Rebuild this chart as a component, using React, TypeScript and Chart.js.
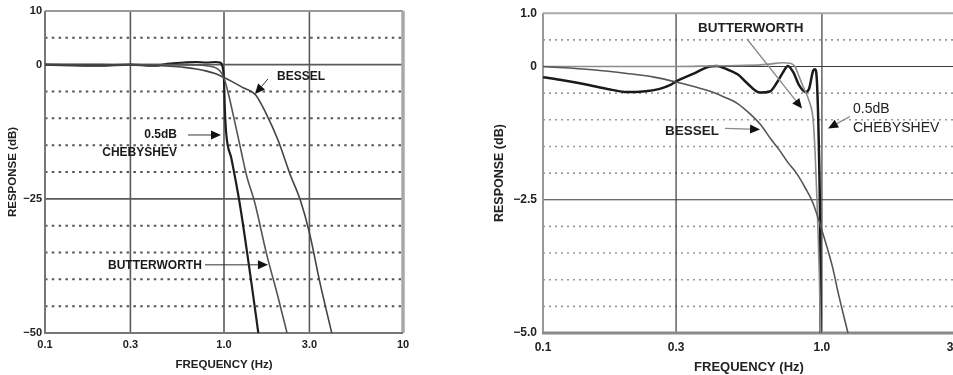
import React, { useEffect, useRef } from 'react';
import { Chart, registerables } from 'chart.js';

Chart.register(...registerables);

const FONT = "'Liberation Sans', Arial, Helvetica, sans-serif";

// ---------------- Left panel (wide range) ----------------
const leftXTicks = [0.1, 0.3, 1, 3, 10];
const leftXLabels = ['0.1', '0.3', '1.0', '3.0', '10'];
const leftYTicks = [-50, -25, 0, 10];
const leftYLabels = ['−50', '−25', '0', '10'];
const leftDotted = [5, -5, -10, -15, -20, -30, -35, -40, -45];
const leftSolidY = [0, -25];
const leftSolidX = [0.3, 1, 3];

const besselLFreq = [0.1, 0.2, 0.3, 0.4, 0.5, 0.6, 0.7, 0.8, 0.9, 1.0, 1.13, 1.28, 1.5, 1.7, 2.0, 2.35, 2.66, 3.0, 3.44, 4.0];
const besselLDb = [0, 0, -0.05, -0.15, -0.3, -0.5, -0.8, -1.2, -1.7, -2.4, -3.3, -4.3, -5.6, -8.8, -14, -20.6, -25.1, -31.3, -40.7, -50];

const butterLFreq = [0.1, 0.3, 0.5, 0.7, 0.8, 0.9, 0.95, 1.0, 1.06, 1.13, 1.23, 1.34, 1.48, 1.73, 2.0, 2.25];
const butterLDb = [0, 0, 0, -0.05, -0.2, -0.6, -1.2, -2.5, -5.5, -9.6, -15.2, -20.8, -25.5, -35.3, -43.2, -50];

const chebyLFreq = [0.1, 0.2, 0.3, 0.4, 0.5, 0.6, 0.7, 0.8, 0.9, 0.95, 0.98, 1.0, 1.01, 1.03, 1.1, 1.226, 1.4, 1.555];
const chebyLDb = [0, -0.2, 0, -0.2, 0.2, 0.4, 0.5, 0.4, 0.5, 0.4, -0.3, -3, -8, -13, -17.5, -26, -39, -50];

// ---------------- Right panel (passband detail) ----------------
const rightXTicks = [0.1, 0.3, 1, 3];
const rightXLabels = ['0.1', '0.3', '1.0', '3.0'];
const rightYTicks = [-5, -2.5, 0, 1];
const rightYLabels = ['−5.0', '−2.5', '0', '1.0'];
const rightDotted = [0.5, -0.5, -1, -1.5, -2, -3, -3.5, -4, -4.5];
const rightSolidY = [0, -2.5];
const rightSolidX = [0.3, 1, 3];

const besselRFreq = [0.1, 0.15, 0.2, 0.25, 0.3, 0.35, 0.4, 0.45, 0.5, 0.55, 0.6, 0.66, 0.7, 0.75, 0.81, 0.87, 0.93, 0.99, 1.05, 1.09, 1.15, 1.24];
const besselRDb = [0, -0.06, -0.13, -0.2, -0.29, -0.38, -0.47, -0.58, -0.7, -0.88, -1.08, -1.38, -1.55, -1.78, -2.0, -2.27, -2.57, -3.0, -3.44, -3.75, -4.3, -5.0];

const butterRFreq = [0.1, 0.2, 0.3, 0.4, 0.5, 0.6, 0.66, 0.72, 0.77, 0.8, 0.83, 0.86, 0.9, 0.93, 0.945, 0.96, 0.975, 0.99];
const butterRDb = [0, 0, 0, 0.01, 0.02, 0.03, 0.05, 0.07, 0.06, 0.0, -0.2, -0.4, -0.65, -1.0, -1.6, -2.5, -3.6, -5];

const chebyRFreq = [0.1, 0.115, 0.14, 0.174, 0.2, 0.228, 0.262, 0.285, 0.3, 0.345, 0.396, 0.42, 0.455, 0.5, 0.536, 0.6, 0.65, 0.69, 0.725, 0.755, 0.79, 0.83, 0.874, 0.899, 0.93, 0.945, 0.96, 0.975, 0.985, 0.99];
const chebyRDb = [-0.2, -0.25, -0.33, -0.43, -0.48, -0.47, -0.42, -0.35, -0.28, -0.14, 0, 0.01, -0.05, -0.15, -0.3, -0.49, -0.47, -0.3, -0.11, 0.01, -0.11, -0.36, -0.48, -0.42, -0.08, -0.05, -0.3, -1.5, -3, -5];

// ---------------- Annotations (data coordinates) ----------------
const leftTexts = [
  { x: 1.977, y: -2.3, text: 'BESSEL', align: 'left' },
  { x: 0.546, y: -13.1, text: '0.5dB', align: 'right' },
  { x: 0.546, y: -16.46, text: 'CHEBYSHEV', align: 'right' },
  { x: 0.225, y: -37.5, text: 'BUTTERWORTH', align: 'left' },
];
const leftArrows = [
  { x1: 1.76, y1: -2.67, x2: 1.49, y2: -5.47 },
  { x1: 0.63, y1: -13.1, x2: 0.962, y2: -13.1 },
  { x1: 0.783, y1: -37.3, x2: 1.76, y2: -37.3 },
];
const rightTexts = [
  { x: 0.3596, y: 0.72, text: 'BUTTERWORTH', align: 'left' },
  { x: 0.2738, y: -1.217, text: 'BESSEL', align: 'left' },
  { x: 1.2926, y: -0.807, text: '0.5dB', align: 'left' },
  { x: 1.2926, y: -1.161, text: 'CHEBYSHEV', align: 'left' },
];
const rightArrows = [
  { x1: 0.5387, y1: 0.5155, x2: 0.8484, y2: -0.789 },
  { x1: 0.4494, y1: -1.161, x2: 0.6001, y2: -1.18 },
  { x1: 1.261, y1: -0.938, x2: 1.052, y2: -1.161 },
];

const gridPlugin = {
  id: 'panelGrid',
  beforeDatasetsDraw(chart: any, _a: any, o: any) {
    const { ctx, chartArea, scales } = chart;
    const { left, right, top, bottom } = chartArea;
    const x = scales.x, y = scales.y;
    ctx.save();
    ctx.lineCap = 'butt';
    ctx.setLineDash(o.dash);
    ctx.strokeStyle = o.dotColor;
    ctx.lineWidth = o.dotWidth;
    o.dotted.forEach((v: number) => {
      const py = y.getPixelForValue(v);
      ctx.beginPath(); ctx.moveTo(left, py); ctx.lineTo(right, py); ctx.stroke();
    });
    ctx.setLineDash([]);
    ctx.strokeStyle = o.solidColor;
    ctx.lineWidth = o.solidWidth;
    o.solidY.forEach((v: number) => {
      const py = y.getPixelForValue(v);
      ctx.beginPath(); ctx.moveTo(left, py); ctx.lineTo(right, py); ctx.stroke();
    });
    o.solidX.forEach((v: number) => {
      const px = x.getPixelForValue(v);
      ctx.beginPath(); ctx.moveTo(px, top); ctx.lineTo(px, bottom); ctx.stroke();
    });
    const side = (c: string, w: number, x1: number, y1: number, x2: number, y2: number) => {
      ctx.strokeStyle = c; ctx.lineWidth = w;
      ctx.beginPath(); ctx.moveTo(x1, y1); ctx.lineTo(x2, y2); ctx.stroke();
    };
    side(o.border.top[0], o.border.top[1], left, top, right, top);
    side(o.border.right[0], o.border.right[1], right, top, right, bottom);
    side(o.border.left[0], o.border.left[1], left, top, left, bottom);
    side(o.border.bottom[0], o.border.bottom[1], left - 1, bottom, right, bottom);
    ctx.restore();
  },
};

const notesPlugin = {
  id: 'panelNotes',
  afterDatasetsDraw(chart: any, _a: any, o: any) {
    const { ctx, scales } = chart;
    const x = scales.x, y = scales.y;
    ctx.save();
    o.arrows.forEach((a: any) => {
      const x1 = x.getPixelForValue(a.x1), y1 = y.getPixelForValue(a.y1);
      const x2 = x.getPixelForValue(a.x2), y2 = y.getPixelForValue(a.y2);
      const ang = Math.atan2(y2 - y1, x2 - x1);
      const L = o.headLen, W = o.headWidth;
      const bx = x2 - Math.cos(ang) * L, by = y2 - Math.sin(ang) * L;
      ctx.strokeStyle = o.arrowColor;
      ctx.lineWidth = o.arrowWidth;
      ctx.beginPath(); ctx.moveTo(x1, y1); ctx.lineTo(bx, by); ctx.stroke();
      ctx.fillStyle = o.headColor;
      ctx.beginPath();
      ctx.moveTo(x2, y2);
      ctx.lineTo(bx + Math.sin(ang) * W, by - Math.cos(ang) * W);
      ctx.lineTo(bx - Math.sin(ang) * W, by + Math.cos(ang) * W);
      ctx.closePath(); ctx.fill();
    });
    ctx.textBaseline = 'middle';
    o.texts.forEach((t: any, i: number) => {
      const f = (o.fonts && o.fonts[i]) || o.font;
      ctx.font = f;
      ctx.fillStyle = o.textColor;
      ctx.textAlign = t.align;
      ctx.fillText(t.text, x.getPixelForValue(t.x), y.getPixelForValue(t.y));
    });
    ctx.restore();
  },
};

function series(freq: number[], db: number[], color: string, width: number) {
  return {
    data: freq.map((f, i) => ({ x: f, y: db[i] })),
    borderColor: color,
    borderWidth: width,
    pointRadius: 0,
    fill: false,
    cubicInterpolationMode: 'monotone',
  };
}

function buildChart(canvas: HTMLCanvasElement, spec: any) {
  return new Chart(canvas, {
    type: 'line',
    data: { datasets: spec.datasets },
    options: {
      animation: false,
      responsive: false,
      devicePixelRatio: 1,
      layout: { padding: spec.padding },
      plugins: {
        legend: { display: false },
        tooltip: { enabled: false },
        panelGrid: spec.grid,
        panelNotes: spec.notes,
      } as any,
      scales: {
        x: {
          type: 'logarithmic',
          min: spec.xMin,
          max: spec.xMax,
          afterBuildTicks: (s: any) => { s.ticks = spec.xTicks.map((v: number) => ({ value: v })); },
          afterFit: (s: any) => { s.height = spec.xHeight; },
          ticks: {
            autoSkip: false,
            maxRotation: 0,
            padding: spec.xTickPad,
            color: '#222',
            font: { family: FONT, size: spec.tickSize, weight: 'bold' },
            callback: (_v: any, i: number) => spec.xLabels[i],
          },
          grid: { display: false, drawTicks: false },
          border: { display: false },
          title: {
            display: true,
            text: 'FREQUENCY (Hz)',
            color: '#222',
            font: { family: FONT, size: spec.xTitleSize, weight: 'bold' },
            padding: { top: 0, bottom: spec.xTitlePad },
          },
        },
        y: {
          type: 'linear',
          min: spec.yMin,
          max: spec.yMax,
          afterBuildTicks: (s: any) => { s.ticks = spec.yTicks.map((v: number) => ({ value: v })); },
          afterFit: (s: any) => { s.width = spec.yWidth; },
          ticks: {
            autoSkip: false,
            padding: spec.yTickPad,
            color: '#222',
            font: { family: FONT, size: spec.tickSize, weight: 'bold' },
            callback: (_v: any, i: number) => spec.yLabels[i],
          },
          grid: { display: false, drawTicks: false },
          border: { display: false },
          title: {
            display: true,
            text: 'RESPONSE (dB)',
            color: '#222',
            font: { family: FONT, size: spec.yTitleSize, weight: 'bold' },
            padding: { top: spec.yTitlePad, bottom: 0 },
          },
        },
      },
    } as any,
    plugins: [gridPlugin, notesPlugin],
  });
}

const leftSpec = {
  datasets: [
    series(besselLFreq, besselLDb, '#444', 1.6),
    series(butterLFreq, butterLDb, '#555', 1.6),
    series(chebyLFreq, chebyLDb, '#1e1e1e', 2.2),
  ],
  padding: { left: 0, top: 11, right: 17, bottom: 0 },
  xMin: 0.1, xMax: 10, xTicks: leftXTicks, xLabels: leftXLabels,
  yMin: -50, yMax: 10, yTicks: leftYTicks, yLabels: leftYLabels,
  xHeight: 42, yWidth: 45, xTickPad: 5, yTickPad: 3, tickSize: 11,
  xTitleSize: 11.5, xTitlePad: 3, yTitleSize: 11.5, yTitlePad: 6,
  grid: {
    dotted: leftDotted, solidY: leftSolidY, solidX: leftSolidX,
    dash: [2.5, 4.3], dotColor: '#555', dotWidth: 2,
    solidColor: '#5a5a5a', solidWidth: 1.6,
    border: { top: ['#9a9a9a', 2], right: ['#a8a8a8', 3.5], left: ['#777', 2], bottom: ['#777', 2] },
  },
  notes: {
    texts: leftTexts, arrows: leftArrows,
    font: `bold 12px ${FONT}`, textColor: '#1a1a1a',
    arrowColor: '#333', arrowWidth: 1, headColor: '#111', headLen: 10, headWidth: 4.5,
  },
};

const rightSpec = {
  datasets: [
    series(besselRFreq, besselRDb, '#555', 1.6),
    series(butterRFreq, butterRDb, '#8c8c8c', 1.6),
    series(chebyRFreq, chebyRDb, '#1a1a1a', 2.5),
  ],
  padding: { left: 0, top: 11, right: 25, bottom: 0 },
  xMin: 0.1, xMax: 3, xTicks: rightXTicks, xLabels: rightXLabels,
  yMin: -5, yMax: 1, yTicks: rightYTicks, yLabels: rightYLabels,
  xHeight: 42, yWidth: 63, xTickPad: 7, yTickPad: 6, tickSize: 12,
  xTitleSize: 13, xTitlePad: 0, yTitleSize: 12.5, yTitlePad: 12,
  grid: {
    dotted: rightDotted, solidY: rightSolidY, solidX: rightSolidX,
    dash: [2, 4], dotColor: '#9a9a9a', dotWidth: 1.6,
    solidColor: '#3a3a3a', solidWidth: 1.2,
    border: { top: ['#aaa', 2], right: ['#aaa', 2], left: ['#999', 2], bottom: ['#8a8a8a', 3] },
  },
  notes: {
    texts: rightTexts, arrows: rightArrows,
    font: `bold 13.5px ${FONT}`,
    fonts: [`bold 13.5px ${FONT}`, `bold 13.5px ${FONT}`, `14px ${FONT}`, `14px ${FONT}`],
    textColor: '#222',
    arrowColor: '#888', arrowWidth: 1.3, headColor: '#111', headLen: 10, headWidth: 4.5,
  },
};

function Panel({ spec, left, width }: { spec: any; left: number; width: number }) {
  const ref = useRef<HTMLCanvasElement | null>(null);
  useEffect(() => {
    if (!ref.current) return;
    const chart = buildChart(ref.current, spec);
    return () => chart.destroy();
  }, [spec]);
  return (
    <canvas
      ref={ref}
      width={width}
      height={375}
      style={{ position: 'absolute', left, top: 0, width, height: 375 }}
    />
  );
}

export default function App() {
  return (
    <div
      style={{
        position: 'fixed', left: 0, top: 0, width: 953, height: 375,
        overflow: 'hidden', background: '#fff',
      }}
    >
      <Panel spec={leftSpec} left={0} width={420} />
      <Panel spec={rightSpec} left={480} width={500} />
    </div>
  );
}
